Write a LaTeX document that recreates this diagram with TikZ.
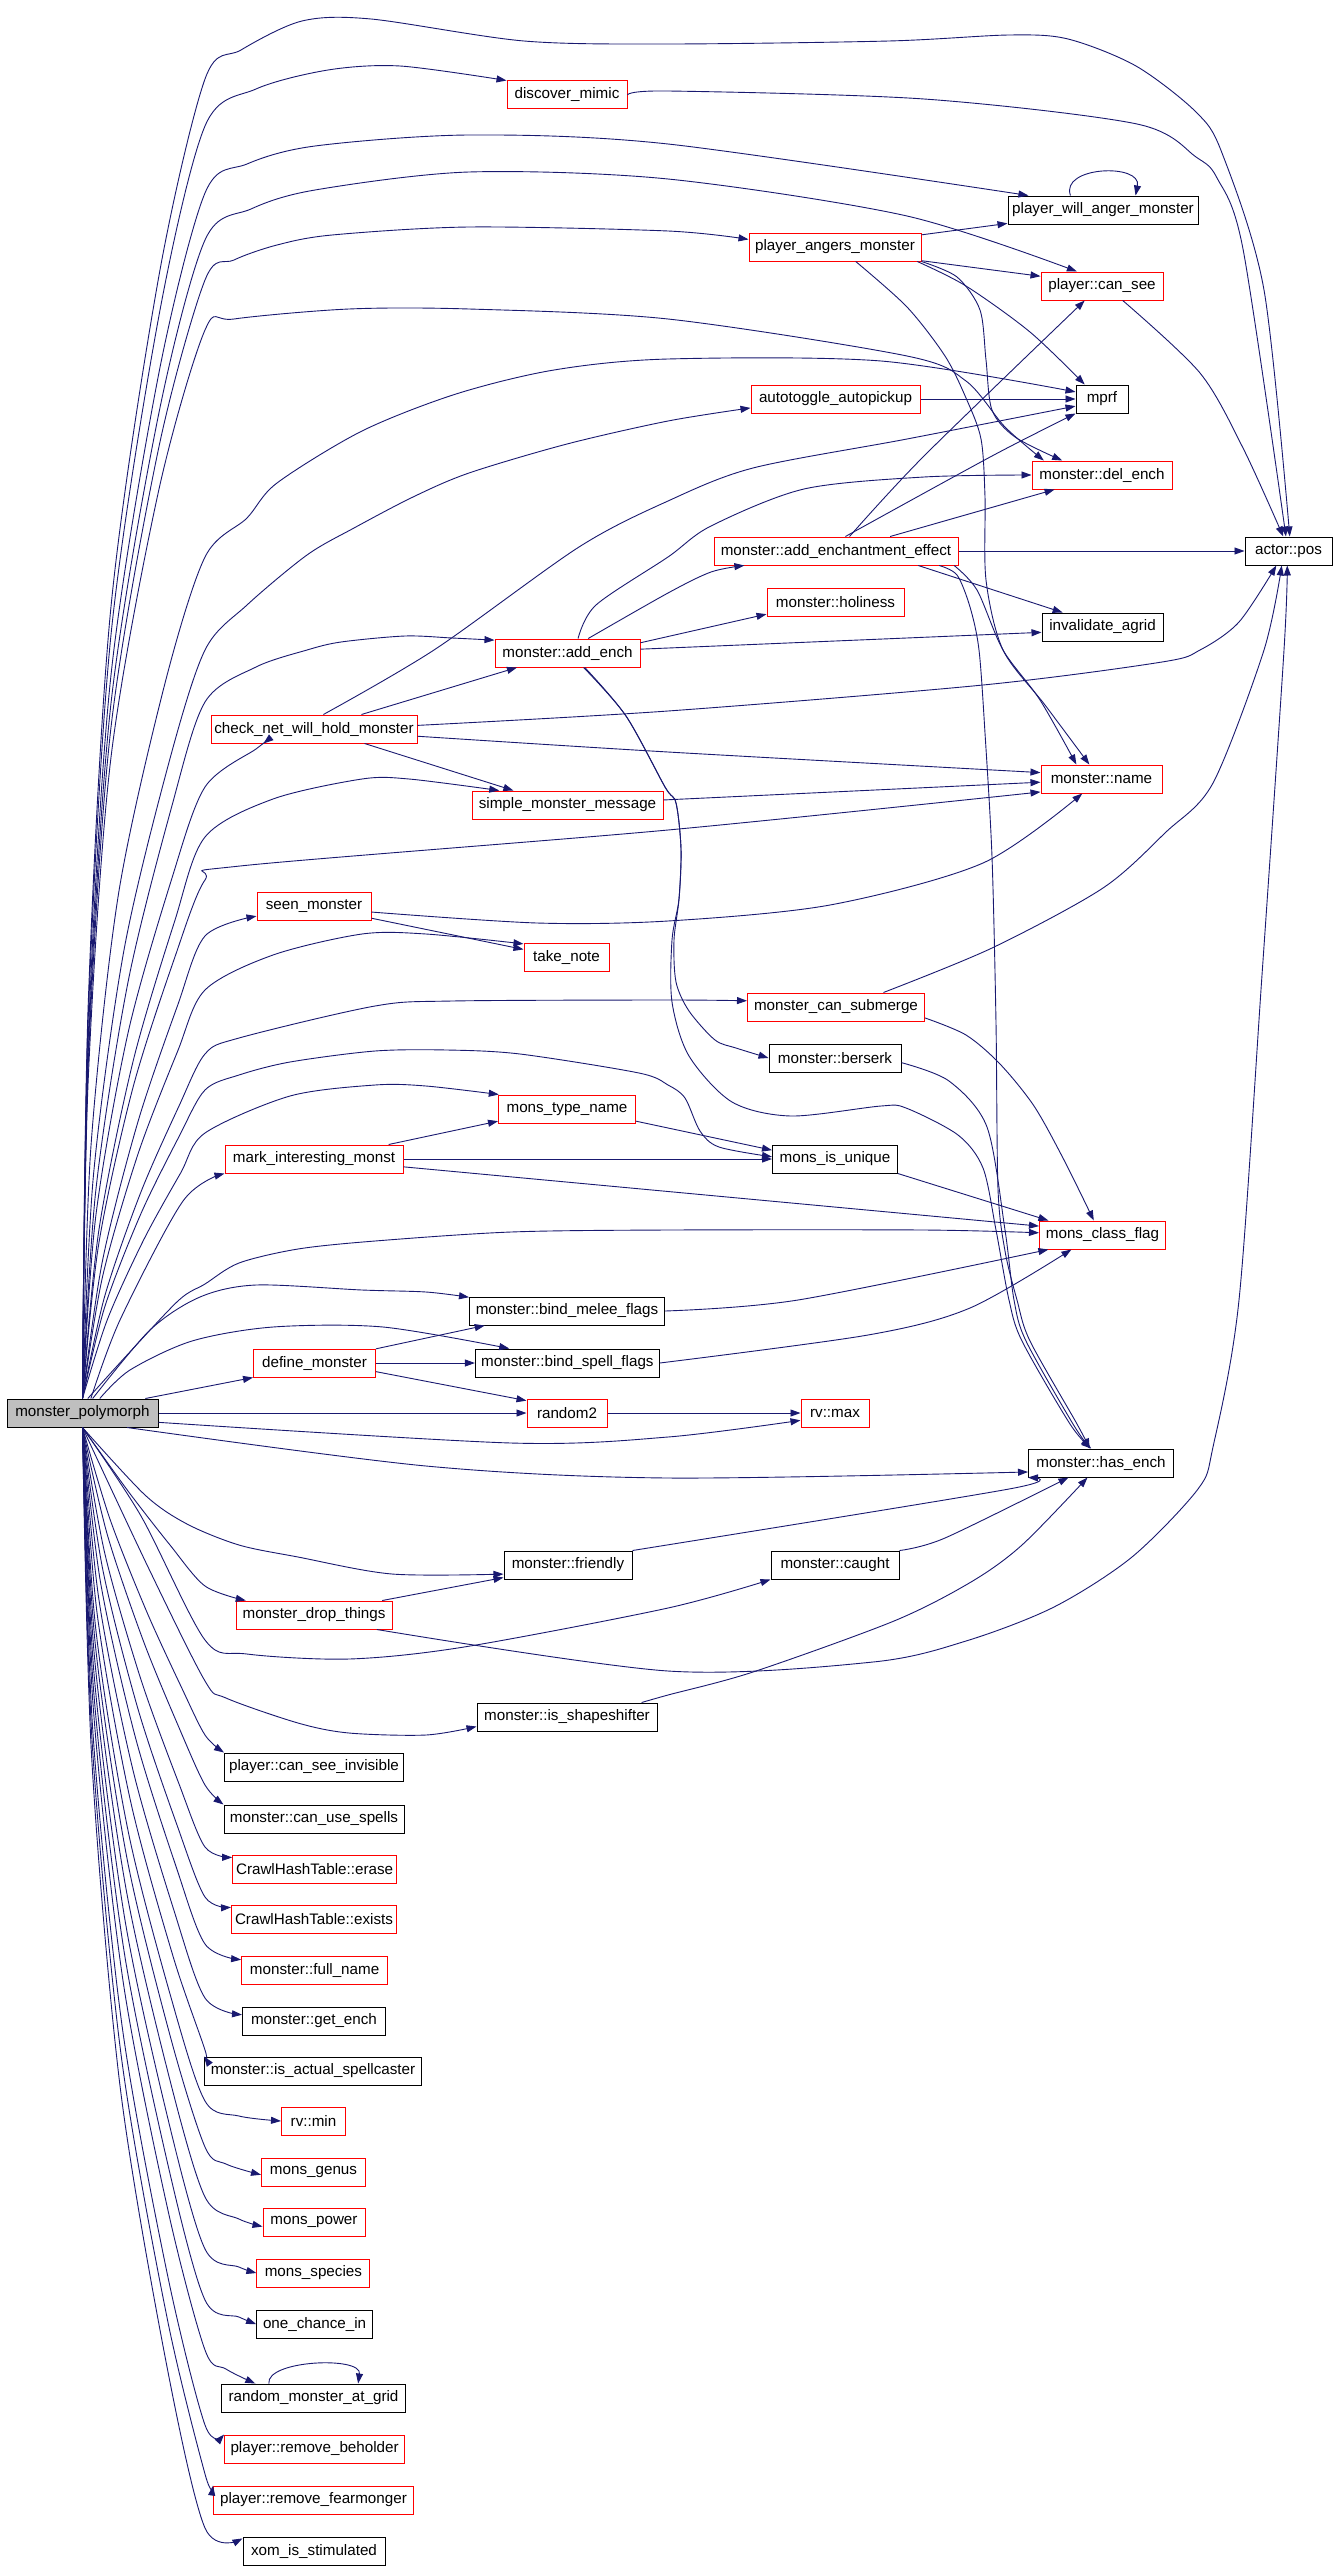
\documentclass[tikz,border=0pt]{standalone}
\usepackage{fontspec}
\setmainfont{Liberation Sans}
\usetikzlibrary{arrows.meta}
\definecolor{edgec}{HTML}{191970}
\definecolor{nodered}{HTML}{FF0000}
\definecolor{mpgray}{HTML}{BFBFBF}
\tikzset{
 box/.style={draw, line width=1pt, minimum height=28pt, inner sep=0pt, font=\fontsize{15.2}{18}\selectfont, text=black},
 rbox/.style={box, draw=nodered},
 kbox/.style={box, draw=black},
 conn/.style={draw=edgec, line width=0.9pt, -{Triangle[length=10pt,width=7pt]}},
}
\newcommand\upfan[3]{\draw[conn] plot[smooth,tension=0.5] coordinates {(mp.north) ({85+120*0.3^#2},{1400-0.3*(1400-#1)}) ({85+120*0.6^#2},{1400-0.6*(1400-#1)}) ({85+120*0.85^#2},{1400-0.85*(1400-#1)}) (205,#1) #3};}
\newcommand\downfan[3]{\draw[conn] plot[smooth,tension=0.5] coordinates {(mp.south) ({85+120*0.3^#2},{1427+0.3*(#1-1427)}) ({85+120*0.6^#2},{1427+0.6*(#1-1427)}) ({85+120*0.85^#2},{1427+0.85*(#1-1427)}) (205,#1) #3};}
\begin{document}
\begin{tikzpicture}[x=1pt,y=-1pt]
\useasboundingbox[fill=white] (0,0) rectangle (1336,2569);
% nodes
\node[kbox, fill=mpgray, minimum width=151pt] (mp) at (82.5,1413) {monster\_polymorph};
\node[rbox, minimum width=120pt] (dm) at (567,95) {discover\_mimic};
\node[kbox, minimum width=190pt] (wa) at (1103,210) {player\_will\_anger\_monster};
\node[rbox, minimum width=172pt] (pam) at (835,247) {player\_angers\_monster};
\node[rbox, minimum width=122pt] (cansee) at (1102,286) {player::can\_see};
\node[kbox, minimum width=52pt] (mprf) at (1102,399) {mprf};
\node[rbox, minimum width=169pt] (auto) at (835.5,399) {autotoggle\_autopickup};
\node[rbox, minimum width=140pt] (delench) at (1102,475) {monster::del\_ench};
\node[rbox, minimum width=244pt] (aee) at (836,551) {monster::add\_enchantment\_effect};
\node[kbox, minimum width=87pt] (pos) at (1288.5,551) {actor::pos};
\node[rbox, minimum width=137pt] (holi) at (835.5,602) {monster::holiness};
\node[kbox, minimum width=121pt] (inval) at (1102.5,627) {invalidate\_agrid};
\node[rbox, minimum width=145pt] (addench) at (567.5,653) {monster::add\_ench};
\node[rbox, minimum width=206pt] (checknet) at (314,729) {check\_net\_will\_hold\_monster};
\node[rbox, minimum width=121pt] (name) at (1101.5,779) {monster::name};
\node[rbox, minimum width=191pt] (smm) at (567.5,805) {simple\_monster\_message};
\node[rbox, minimum width=114pt] (seen) at (314,906) {seen\_monster};
\node[rbox, minimum width=85pt] (takenote) at (566.5,957) {take\_note};
\node[rbox, minimum width=177pt] (submerge) at (836,1007) {monster\_can\_submerge};
\node[kbox, minimum width=132pt] (berserk) at (835,1058) {monster::berserk};
\node[rbox, minimum width=137pt] (mtn) at (567,1109) {mons\_type\_name};
\node[rbox, minimum width=178pt] (mim) at (314,1159) {mark\_interesting\_monst};
\node[kbox, minimum width=125pt] (unique) at (835,1159) {mons\_is\_unique};
\node[rbox, minimum width=126pt] (mcf) at (1102.5,1235) {mons\_class\_flag};
\node[kbox, minimum width=195pt] (melee) at (567,1311) {monster::bind\_melee\_flags};
\node[rbox, minimum width=122pt] (define) at (314.5,1363) {define\_monster};
\node[kbox, minimum width=184pt] (spell) at (567.4,1363) {monster::bind\_spell\_flags};
\node[rbox, minimum width=80pt] (random2) at (567,1413) {random2};
\node[rbox, minimum width=68pt] (rvmax) at (835,1413) {rv::max};
\node[kbox, minimum width=145pt] (hasench) at (1101,1463) {monster::has\_ench};
\node[kbox, minimum width=128pt] (friendly) at (568,1565) {monster::friendly};
\node[kbox, minimum width=128pt] (caught) at (835,1565) {monster::caught};
\node[rbox, minimum width=156pt] (mdt) at (314,1615) {monster\_drop\_things};
\node[kbox, minimum width=180pt] (shape) at (567,1717) {monster::is\_shapeshifter};
\node[kbox, minimum width=179pt] (csi) at (314,1767) {player::can\_see\_invisible};
\node[kbox, minimum width=180pt] (cus) at (314,1819) {monster::can\_use\_spells};
\node[rbox, minimum width=164pt] (erase) at (314.6,1869) {CrawlHashTable::erase};
\node[rbox, minimum width=165pt] (exists) at (314,1919) {CrawlHashTable::exists};
\node[rbox, minimum width=146pt] (fullname) at (314.6,1970) {monster::full\_name};
\node[kbox, minimum width=143pt] (getench) at (314,2021) {monster::get\_ench};
\node[kbox, minimum width=217pt] (ias) at (313,2071) {monster::is\_actual\_spellcaster};
\node[rbox, minimum width=64pt] (rvmin) at (313.5,2121) {rv::min};
\node[rbox, minimum width=104pt] (genus) at (313.5,2172) {mons\_genus};
\node[rbox, minimum width=102pt] (power) at (314,2222) {mons\_power};
\node[rbox, minimum width=113pt] (species) at (313.4,2273) {mons\_species};
\node[kbox, minimum width=116pt] (oci) at (314.6,2324) {one\_chance\_in};
\node[kbox, minimum width=184pt] (rmag) at (313.5,2398) {random\_monster\_at\_grid};
\node[rbox, minimum width=180pt] (beholder) at (314.6,2449) {player::remove\_beholder};
\node[rbox, minimum width=200pt] (fear) at (313.5,2500) {player::remove\_fearmonger};
\node[kbox, minimum width=142pt] (xom) at (314,2551) {xom\_is\_stimulated};

% edges from monster_polymorph going up
\upfan{79}{3}{(241,50) (302,21) (371,19) (524,41) (668,44) (889,41) (1009,35) (1068,39) (1136,66) (1196,112) (1222,153) (1264,290) (pos.85)}
\upfan{126}{3}{(256,89) (328,70) (400,66) (dm.north west)}
\upfan{193}{3}{(247,164) (315,146) (469,135) (668,144) (wa.169)}
\upfan{240}{3}{(251,209) (315,190) (469,172) (668,179) (907,216) (cansee.150)}
\upfan{280}{3}{(234,260) (277,245) (332,235) (469,227) (668,231) (pam.175)}
\upfan{330}{3}{(234,319) (349,309) (469,309) (668,319) (907,356) (966,381) (1005,427) (delench.166)}
\upfan{557}{2.5}{(247,518) (277,483) (362,431) (456,394) (554,370) (668,359) (881,361) (mprf.165)}
\upfan{650}{2.2}{(247,605) (307,555) (354,528) (413,497) (469,473) (567,444) (668,421) (auto.186)}
\upfan{702}{2}{(256,667) (307,650) (341,642) (405,636) (452,638) (addench.170)}
\upfan{787}{2}{(256,749) (checknet.196)}
\upfan{837}{1.8}{(273,799) (362,779) (409,779) (smm.168)}
\upfan{880}{1.8}{(240,866) (668,830) (name.192)}
\upfan{936}{1.6}{(seen.190)}
\upfan{990}{1.6}{(273,955) (362,934) (426,934) (takenote.163)}
\upfan{1054}{1.5}{(239,1038) (375,1006) (452,1001) (668,1000) (submerge.176)}
\upfan{1090}{1.5}{(239,1075) (290,1062) (375,1051) (447,1050) (520,1054) (639,1073) (668,1085) (685,1098) (700,1131) (719,1147) (unique.178)}
\upfan{1133}{1.4}{(290,1096) (375,1085) (426,1086) (mtn.168)}
\draw[conn] plot[smooth,tension=0.5] coordinates {(mp.60) (120,1320) (183,1201) (mim.south west)};
\draw[conn] plot[smooth,tension=0.5] coordinates {(mp.70) (128,1354) (179,1300) (205,1284) (239,1263) (298,1249) (375,1241) (511,1232) (668,1230) (924,1230) (mcf.178)};
\draw[conn] plot[smooth,tension=0.5] coordinates {(mp.55) (150,1330) (200,1297) (256,1285) (362,1290) (426,1292) (melee.172)};
\draw[conn] plot[smooth,tension=0.5] coordinates {(mp.40) (130,1370) (192,1341) (273,1327) (383,1327) (spell.166)};
\draw[conn] (mp.13) -- (define.south west);
\draw[conn] (mp.east) -- (random2.west);
\draw[conn] plot[smooth,tension=0.5] coordinates {(mp.353) (511,1443) (668,1437) (rvmax.192)};
\draw[conn] plot[smooth,tension=0.5] coordinates {(mp.342) (426,1466) (668,1478) (hasench.187)};
\draw[conn] plot[smooth,tension=0.5] coordinates {(mp.south) (145,1495) (187,1524) (239,1545) (298,1557) (392,1574) (friendly.188)};
\draw[conn] plot[smooth,tension=0.5] coordinates {(mp.south) (128,1491) (170,1545) (205,1586) (mdt.168)};
\draw[conn] plot[smooth,tension=0.5] coordinates {(mp.south) (141,1516) (205,1640) (247,1654) (349,1659) (464,1647) (668,1608) (caught.south west)};
\draw[conn] plot[smooth,tension=0.5] coordinates {(mp.south) (149,1569) (205,1681) (226,1698) (298,1723) (349,1733) (426,1735) (shape.186)};
% edges from monster_polymorph going down
\downfan{1735}{1.3}{(csi.north west)}
\downfan{1785}{1.4}{(cus.north west)}
\downfan{1847}{1.5}{(erase.172)}
\downfan{1897}{1.6}{(exists.172)}
\downfan{1944}{1.7}{(fullname.172)}
\downfan{1998}{1.8}{(getench.175)}
\downfan{2050}{1.9}{(ias.north west)}
\downfan{2101}{2}{(239,2116) (rvmin.west)}
\downfan{2147}{2.05}{(226,2164) (genus.183)}
\downfan{2197}{2.1}{(239,2219) (power.185)}
\downfan{2249}{2.15}{(239,2267) (species.west)}
\downfan{2300}{2.2}{(239,2317) (oci.west)}
\downfan{2350}{2.25}{(226,2369) (rmag.166)}
\downfan{2425}{2.3}{(beholder.north west)}
\downfan{2474}{2.35}{(fear.north west)}
\downfan{2528}{2.4}{(xom.170)}

% other edges
\draw[conn] plot[smooth,tension=0.5] coordinates {(dm.east) (668,91) (924,99) (1137,124) (1196,157) (1217,178) (1243,249) (pos.100)};
\draw[conn] (wa.156) .. controls (1060,166) and (1142,163) .. (wa.24);
\draw[conn] (rmag.162) .. controls (266,2360) and (362,2356) .. (rmag.18);
\draw[conn] (pam.8) -- (wa.188);
\draw[conn] (pam.351) -- (cansee.171);
\draw[conn] plot[smooth,tension=0.5] coordinates {(pam.350) (966,286) (1030,332) (mprf.140)};
\draw[conn] plot[smooth,tension=0.5] coordinates {(pam.south east) (957,277) (980,310) (986,360) (992,410) (1015,437) (delench.160)};
\draw[conn] plot[smooth,tension=0.5] coordinates {(pam.325) (907,307) (945,356) (966,398) (981,439) (985,497) (986,580) (1003,650) (1045,705) (name.130)};
\draw[conn] plot[smooth,tension=0.5] coordinates {(cansee.325) (1200,373) (1243,448) (pos.110)};
\draw[conn] (auto.east) -- (mprf.west);
\draw[conn] plot[smooth,tension=0.5] coordinates {(checknet.57) (434,650) (579,547) (668,501) (753,468) (907,439) (mprf.195)};
\draw[conn] plot[smooth,tension=0.5] coordinates {(aee.57) (992,456) (mprf.south west)};
\draw[conn] plot[smooth,tension=0.5] coordinates {(aee.47) (924,456) (cansee.220)};
\draw[conn] (aee.15) -- (delench.197);
\draw[conn] (aee.east) -- (pos.west);
\draw[conn] (aee.350) -- (inval.160);
\draw[conn] plot[smooth,tension=0.5] coordinates {(aee.353) (977,590) (1003,650) (1040,700) (name.150)};
\draw[conn] plot[smooth,tension=0.5] coordinates {(aee.352) (957,575) (970,607) (979,650) (985,733) (992,857) (996,1023) (998,1189) (1005,1251) (1017,1300) (1030,1341) (1077,1424) (hasench.128)};
\draw[conn] plot[smooth,tension=0.5] coordinates {(addench.54) (596,605) (668,557) (711,526) (804,489) (924,477) (delench.180)};
\draw[conn] plot[smooth,tension=0.5] coordinates {(addench.35) (668,593) (711,572) (aee.189)};
\draw[conn] (addench.8) -- (holi.190);
\draw[conn] (addench.3) -- (inval.185);
\draw[conn] plot[smooth,tension=0.5] coordinates {(addench.320) (626,716) (665,787) (676,803) (681,849) (679,899) (674,940) (676,982) (689,1011) (715,1040) (736,1048) (berserk.west)};
\draw[conn] plot[smooth,tension=0.5] coordinates {(addench.318) (626,716) (665,787) (676,803) (681,849) (679,899) (672,940) (672,1002) (689,1056) (732,1102) (791,1116) (881,1106) (906,1108) (958,1135) (983,1168) (996,1230) (1009,1300) (1022,1341) (1070,1424) (hasench.124)};
\draw[conn] (checknet.17) -- (addench.196);
\draw[conn] plot[smooth,tension=0.5] coordinates {(checknet.2) (668,711) (983,685) (1162,662) (1200,650) (1239,622) (pos.230)};
\draw[conn] plot[smooth,tension=0.5] coordinates {(checknet.356) (668,752) (name.174)};
\draw[conn] (checknet.344) -- (smm.165);
\draw[conn] (smm.3) -- (name.183);
\draw[conn] plot[smooth,tension=0.5] coordinates {(seen.354) (537,923) (668,921) (830,905) (983,863) (name.217)};
\draw[conn] (seen.348) -- (takenote.170);
\draw[conn] plot[smooth,tension=0.5] coordinates {(submerge.17) (992,948) (1103,888) (1166,832) (1213,783) (1264,650) (pos.245)};
\draw[conn] plot[smooth,tension=0.5] coordinates {(submerge.353) (966,1035) (1000,1064) (1034,1106) (1064,1160) (mcf.121)};
\draw[conn] plot[smooth,tension=0.5] coordinates {(berserk.356) (949,1081) (987,1127) (1005,1230) (1014,1300) (1026,1341) (1073,1424) (hasench.126)};
\draw[conn] (mtn.350) -- (unique.172);
\draw[conn] (mim.11) -- (mtn.190);
\draw[conn] (mim.east) -- (unique.west);
\draw[conn] (mim.355) -- (mcf.172);
\draw[conn] (unique.347) -- (mcf.165);
\draw[conn] plot[smooth,tension=0.5] coordinates {(melee.east) (798,1300) (mcf.195)};
\draw[conn] plot[smooth,tension=0.5] coordinates {(spell.east) (868,1335) (970,1308) (mcf.205)};
\draw[conn] (define.13) -- (melee.190);
\draw[conn] (define.east) -- (spell.west);
\draw[conn] (define.352) -- (random2.163);
\draw[conn] (random2.east) -- (rvmax.west);
\draw[conn] plot[smooth,tension=0.5] coordinates {(friendly.north east) (1009,1489) (hasench.south west)};
\draw[conn] plot[smooth,tension=0.5] coordinates {(caught.north east) (945,1538) (hasench.204)};
\draw[conn] (mdt.12) -- (friendly.191);
\draw[conn] plot[smooth,tension=0.5] coordinates {(mdt.347) (668,1671) (873,1662) (966,1641) (1054,1607) (1132,1557) (1198,1489) (1213,1447) (1239,1300) (1262,975) (1284,650) (pos.265)};
\draw[conn] plot[smooth,tension=0.5] coordinates {(shape.11) (668,1695) (753,1672) (894,1621) (971,1582) (1022,1545) (hasench.227)};
\end{tikzpicture}
\end{document}
